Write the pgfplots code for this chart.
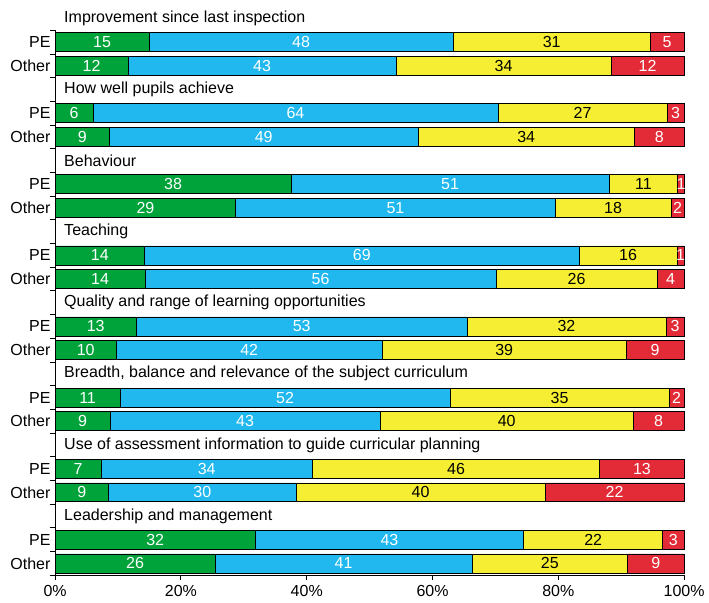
\documentclass[border=0pt]{standalone}
\usepackage{pgfplots}
\pgfplotsset{compat=1.18}
\usepackage{fontspec}
\setmainfont{Liberation Sans}
\definecolor{cg}{HTML}{00A33A}
\definecolor{cb}{HTML}{20B8EE}
\definecolor{cy}{HTML}{F5EE32}
\definecolor{cr}{HTML}{E22B36}
\pgfplotsset{base/.style={
 scale only axis, width=471.75pt, height=408.75pt,
 y dir=reverse, ymin=0.5, ymax=23.5,
 xmin=0, xmax=100, clip=false}}
\tikzset{ttl/.style={anchor=west, inner sep=0pt, font=\fontsize{12}{14}\selectfont}}
\begin{document}
\begin{tikzpicture}
\begin{axis}[base,
 xbar stacked, bar width=0.8,
 axis x line*=bottom, axis y line*=left,
 axis line style={black, line width=0.6pt},
 tick align=outside, major tick length=3.75pt,
 tick style={black, line width=0.7pt},
 xtick={0,20,...,100}, xticklabels={0\%,20\%,40\%,60\%,80\%,100\%},
 ytick={0.5,1.5,...,23.5},
 yticklabel=\empty,
 extra y ticks={1,2,4,5,7,8,10,11,13,14,16,17,19,20,22,23},
 extra y tick labels={PE,Other,PE,Other,PE,Other,PE,Other,PE,Other,PE,Other,PE,Other,PE,Other},
 extra y tick style={major tick length=0pt},
 tick label style={font=\fontsize{12}{14}\selectfont},
]
\addplot[fill=cg, draw=black, line width=0.5pt] coordinates {(14.9,1) (11.6,2) (6.0,4) (8.6,5) (37.5,7) (28.7,8) (14.2,10) (14.3,11) (12.9,13) (9.7,14) (10.3,16) (8.7,17) (7.3,19) (8.5,20) (31.8,22) (25.4,23)};
\addplot[fill=cb, draw=black, line width=0.5pt] coordinates {(48.4,1) (42.6,2) (64.4,4) (49.1,5) (50.6,7) (50.8,8) (69.1,10) (55.8,11) (52.6,13) (42.3,14) (52.5,16) (43.0,17) (33.6,19) (29.8,20) (42.7,22) (40.9,23)};
\addplot[fill=cy, draw=black, line width=0.5pt] coordinates {(31.3,1) (34.2,2) (26.9,4) (34.4,5) (10.9,7) (18.4,8) (15.6,10) (25.6,11) (31.6,13) (38.8,14) (34.8,16) (40.2,17) (45.7,19) (39.6,20) (22.1,22) (24.7,23)};
\addplot[fill=cr, draw=black, line width=0.5pt] coordinates {(5.4,1) (11.6,2) (2.7,4) (7.9,5) (1.0,7) (2.1,8) (1.1,10) (4.3,11) (2.9,13) (9.2,14) (2.4,16) (8.1,17) (13.4,19) (22.1,20) (3.4,22) (9.0,23)};
\node[ttl] at (axis cs:1.4,0) {Improvement since last inspection};
\node[ttl] at (axis cs:1.4,3) {How well pupils achieve};
\node[ttl] at (axis cs:1.4,6) {Behaviour};
\node[ttl] at (axis cs:1.4,9) {Teaching};
\node[ttl] at (axis cs:1.4,12) {Quality and range of learning opportunities};
\node[ttl] at (axis cs:1.4,15) {Breadth, balance and relevance of the subject curriculum};
\node[ttl] at (axis cs:1.4,18) {Use of assessment information to guide curricular planning};
\node[ttl] at (axis cs:1.4,21) {Leadership and management};
\end{axis}
\begin{axis}[base, hide axis,
 nodes near coords, point meta=explicit symbolic,
 every node near coord/.append style={anchor=center, inner sep=0pt, font=\fontsize{12}{14}\selectfont, text=white},
]
\addplot[draw=none, mark=none] coordinates {(7.45,1)[15] (5.8,2)[12] (3.0,4)[6] (4.3,5)[9] (18.75,7)[38] (14.35,8)[29] (7.1,10)[14] (7.15,11)[14] (6.45,13)[13] (4.85,14)[10] (5.15,16)[11] (4.35,17)[9] (3.65,19)[7] (4.25,20)[9] (15.9,22)[32] (12.7,23)[26]};
\addplot[draw=none, mark=none] coordinates {(39.1,1)[48] (32.9,2)[43] (38.2,4)[64] (33.15,5)[49] (62.8,7)[51] (54.1,8)[51] (48.75,10)[69] (42.2,11)[56] (39.2,13)[53] (30.85,14)[42] (36.55,16)[52] (30.2,17)[43] (24.1,19)[34] (23.4,20)[30] (53.15,22)[43] (45.85,23)[41]};
\addplot[draw=none, mark=none, every node near coord/.append style={text=black}] coordinates {(78.95,1)[31] (71.3,2)[34] (83.85,4)[27] (74.9,5)[34] (93.55,7)[11] (88.7,8)[18] (91.1,10)[16] (82.9,11)[26] (81.3,13)[32] (71.4,14)[39] (80.2,16)[35] (71.8,17)[40] (63.75,19)[46] (58.1,20)[40] (85.55,22)[22] (78.65,23)[25]};
\addplot[draw=none, mark=none] coordinates {(97.3,1)[5] (94.2,2)[12] (98.65,4)[3] (96.05,5)[8] (99.5,7)[1] (98.95,8)[2] (99.45,10)[1] (97.85,11)[4] (98.55,13)[3] (95.4,14)[9] (98.8,16)[2] (95.95,17)[8] (93.3,19)[13] (88.95,20)[22] (98.3,22)[3] (95.5,23)[9]};
\end{axis}
\path (current bounding box.north) ++(0,8.25pt);
\path (current bounding box.south) ++(0,-1pt);
\path (current bounding box.west) ++(-4.5pt,0);
\end{tikzpicture}
\end{document}
